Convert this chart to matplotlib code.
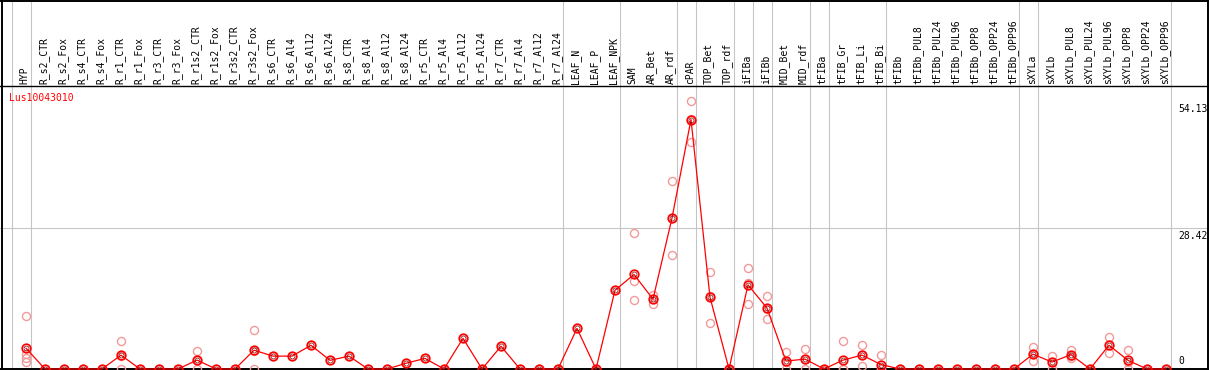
import matplotlib
matplotlib.use('Agg')
import matplotlib.pyplot as plt

gene = 'Lus10043010'

labels = ['HYP', 'R_s2_CTR', 'R_s2_Fox', 'R_s4_CTR', 'R_s4_Fox', 'R_r1_CTR', 'R_r1_Fox',
          'R_r3_CTR', 'R_r3_Fox', 'R_r1s2_CTR', 'R_r1s2_Fox', 'R_r3s2_CTR', 'R_r3s2_Fox',
          'R_s6_CTR', 'R_s6_Al4', 'R_s6_Al12', 'R_s6_Al24', 'R_s8_CTR', 'R_s8_Al4',
          'R_s8_Al12', 'R_s8_Al24', 'R_r5_CTR', 'R_r5_Al4', 'R_r5_Al12', 'R_r5_Al24',
          'R_r7_CTR', 'R_r7_Al4', 'R_r7_Al12', 'R_r7_Al24', 'LEAF_N', 'LEAF_P', 'LEAF_NPK',
          'SAM', 'AR_Bet', 'AR_rdf', 'cPAR', 'TOP_Bet', 'TOP_rdf', 'iFIBa', 'iFIBb',
          'MID_Bet', 'MID_rdf', 'tFIBa', 'tFIB_Gr', 'tFIB_Li', 'tFIB_Bi', 'tFIBb',
          'tFIBb_PUL8', 'tFIBb_PUL24', 'tFIBb_PUL96', 'tFIBb_OPP8', 'tFIBb_OPP24',
          'tFIBb_OPP96', 'sXYLa', 'sXYLb', 'sXYLb_PUL8', 'sXYLb_PUL24', 'sXYLb_PUL96',
          'sXYLb_OPP8', 'sXYLb_OPP24', 'sXYLb_OPP96']

means = [4.2, 0, 0, 0, 0, 2.8, 0, 0, 0, 1.8, 0, 0, 3.8,
         2.6, 2.6, 4.8, 1.75, 2.6, 0, 0, 1.15, 2.15, 0, 6.2, 0,
         4.6, 0, 0, 0, 8.2, 0, 15.9,
         19.1, 14.1, 30.5, 50.4, 14.5, 0, 17.0, 12.3,
         1.6, 2.0, 0, 1.8, 2.8, 0.9, 0,
         0, 0, 0, 0, 0, 0,
         3.0, 1.4, 2.9, 0, 4.8, 1.75, 0, 0]

reps = [[10.8, 3.0, 2.15, 1.35], [0], [0], [0], [0], [5.7, 2.7, 0], [0],
        [0], [0], [3.6, 1.8, 0], [0], [0], [7.8, 3.6, 0],
        [2.6], [2.6], [4.8], [1.75], [2.6], [0], [0], [1.15], [2.15], [0], [6.2], [0],
        [4.6], [0], [0], [0], [8.2], [0], [15.9],
        [27.4, 17.7, 13.9], [14.9, 14.2, 13.2], [37.9, 30.6, 23.0], [54.13, 50.6, 45.9],
        [19.5, 14.8, 9.2], [0, 0, 0], [20.5, 17.3, 13.1], [14.7, 12.1, 10.1],
        [3.4, 1.5, 0], [4.0, 2.0, 0], [0, 0, 0], [5.7, 0, 0], [4.8, 2.9, 0.7], [2.8, 0, 0],
        [0], [0], [0], [0], [0], [0], [0],
        [4.4, 3.0, 1.55], [2.7, 1.5, 0], [3.9, 2.7, 2.15], [0], [6.4, 4.8, 3.2],
        [3.8, 1.5, 0], [0], [0]]

# group separators drawn just right of these columns
group_ends = [-1, 0, 28, 31, 34, 35, 37, 38, 39, 41, 42, 45, 52, 53, 60]
ticks = [54.13, 28.42, 0]

W, H = 1209, 370
X0, PX = 26, 19.0      # first column pixel, pixels per column
Y0, PY = 369, 4.95     # zero line pixel (from top), pixels per unit

fig = plt.figure(figsize=(W / 100, H / 100), dpi=100)
ax = fig.add_axes([0, 0, 1, 1])
ax.set_xlim(-X0 / PX, (W - X0) / PX)
ax.set_ylim(-(H - Y0) / PY, Y0 / PY)
ax.axis('off')

def yval(px):
    return (Y0 - px) / PY

# frame
for g in group_ends:
    ax.axvline(g + 0.25, color='#c4c4c4', lw=0.75, zorder=1)
ax.axhline(ticks[1], color='#c4c4c4', lw=0.75, zorder=1)
ax.plot([0, 1], [1 - 0.7 / H] * 2, color='k', lw=1.4, transform=ax.transAxes, clip_on=False)
ax.plot([0, 1], [(H - 85.5) / H] * 2, color='k', lw=1, transform=ax.transAxes)
ax.plot([1.5 / W] * 2, [0, 1], color='k', lw=1.4, transform=ax.transAxes)
ax.plot([1207.5 / W] * 2, [0, 1], color='k', lw=1.4, transform=ax.transAxes)
ax.axhline(0, color='k', lw=1.4, zorder=2)

mono = 'DejaVu Sans Mono'
for i, lab in enumerate(labels):
    ax.text(i - 0.07, yval(83.5), lab, rotation=90, ha='center', va='bottom',
            family=mono, fontsize=7)

ax.text((9 - X0) / PX, yval(97.5), gene, color='red', ha='left', va='center',
        family=mono, fontsize=7)

xr = (1178 - X0) / PX
ax.text(xr, ticks[0] - 0.6, '%.2f' % ticks[0], ha='left', va='top', family=mono, fontsize=7)
ax.text(xr, ticks[1] - 0.6, '%.2f' % ticks[1], ha='left', va='top', family=mono, fontsize=7)
ax.text(xr, 0.7, '0', ha='left', va='bottom', family=mono, fontsize=7)

# replicates
for i, r in enumerate(reps):
    ax.plot([i] * len(r), r, 'o', mfc='none', mec='#f29a9a', ms=5.8, mew=1.0, zorder=3)

x = list(range(len(labels)))
ax.plot(x, means, '-', color='red', lw=0.9, zorder=4)
ax.plot(x, means, 'o', mfc='none', mec='red', ms=6.2, mew=1.2, zorder=5)
ax.plot(x, means, 'o', mfc='none', mec='#7a0000', ms=3.6, mew=0.5, zorder=5)

fig.savefig('out.png', dpi=100)
